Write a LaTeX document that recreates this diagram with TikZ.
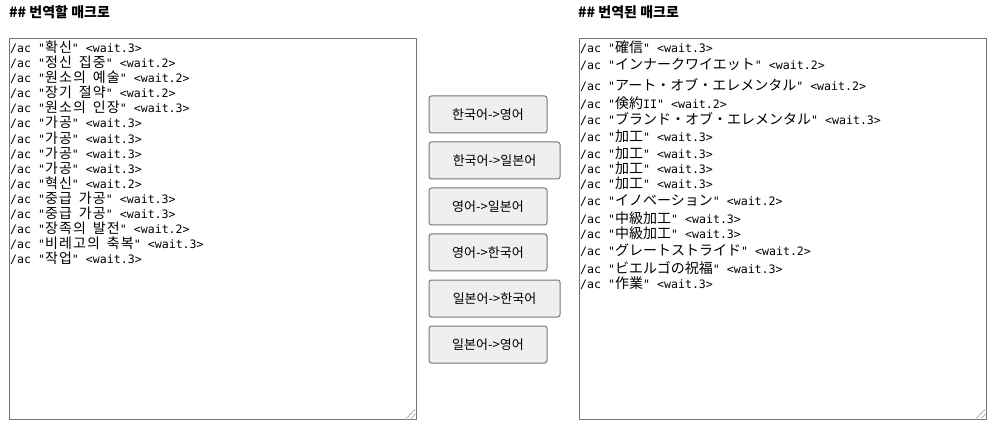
\documentclass[tikz,border=0pt]{standalone}
\usepackage{fontspec}
\setmonofont{DejaVu Sans Mono}
\newfontfamily\krfont{Noto Sans CJK KR}
\newfontfamily\krmono{Noto Sans CJK KR}[LetterSpace=8]
\newfontfamily\jpfont{Noto Sans CJK JP}
\usetikzlibrary{positioning}
\definecolor{btnfill}{HTML}{EFEFEF}
\definecolor{frame}{HTML}{767676}
\newcommand\kr[1]{{\fontsize{14}{15}\krmono #1}}
\newcommand\jp[1]{{\fontsize{14}{15}\jpfont #1}}

\begin{document}
\begin{tikzpicture}[x=1pt,y=-1pt,
  every node/.style={inner sep=0pt},
  head/.style={anchor=west,font=\fontsize{14}{15}\krfont\bfseries},
  area/.style={draw=frame,line width=1pt,anchor=north west},
  macro/.style={anchor=base west,font=\fontsize{11.6}{15}\ttfamily},
  btn/.style={draw=frame,fill=btnfill,line width=1pt,rounded corners=2.5pt,
    minimum height=37pt,font=\fontsize{13}{14}\krfont},
  grip/.style={frame,line width=0.8pt,dash pattern=on 1pt off 1pt}]
\useasboundingbox (0,0) rectangle (998,438);

% headings
\node[head] (srchead) at (9,12) {\#\# 번역할 매크로};
\node[head] (dsthead) at (578,12) {\#\# 번역된 매크로};

% text areas
\node[area,minimum width=407pt,minimum height=380pt] (srcbox) at (8.5,38.5) {};
\node[area,minimum width=407pt,minimum height=380pt] (dstbox) at (578.5,38.5) {};
\draw[grip] ([xshift=-10pt,yshift=1.5pt]srcbox.south east) -- ([xshift=-1.5pt,yshift=10pt]srcbox.south east);
\draw[grip] ([xshift=-5pt,yshift=1.5pt]srcbox.south east) -- ([xshift=-1.5pt,yshift=5pt]srcbox.south east);
\draw[grip] ([xshift=-10pt,yshift=1.5pt]dstbox.south east) -- ([xshift=-1.5pt,yshift=10pt]dstbox.south east);
\draw[grip] ([xshift=-5pt,yshift=1.5pt]dstbox.south east) -- ([xshift=-1.5pt,yshift=5pt]dstbox.south east);

% macro to translate
\node[macro] (src1) at (10,52.5) {/ac "\kr{확신}" <wait.3>};
\node[macro] (src2) at (10,67.6) {/ac "\kr{정신} \kr{집중}" <wait.2>};
\node[macro] (src3) at (10,82.7) {/ac "\kr{원소의} \kr{예술}" <wait.2>};
\node[macro] (src4) at (10,97.8) {/ac "\kr{장기} \kr{절약}" <wait.2>};
\node[macro] (src5) at (10,112.9) {/ac "\kr{원소의} \kr{인장}" <wait.3>};
\node[macro] (src6) at (10,128.0) {/ac "\kr{가공}" <wait.3>};
\node[macro] (src7) at (10,143.1) {/ac "\kr{가공}" <wait.3>};
\node[macro] (src8) at (10,158.2) {/ac "\kr{가공}" <wait.3>};
\node[macro] (src9) at (10,173.3) {/ac "\kr{가공}" <wait.3>};
\node[macro] (src10) at (10,188.4) {/ac "\kr{혁신}" <wait.2>};
\node[macro] (src11) at (10,203.5) {/ac "\kr{중급} \kr{가공}" <wait.3>};
\node[macro] (src12) at (10,218.6) {/ac "\kr{중급} \kr{가공}" <wait.3>};
\node[macro] (src13) at (10,233.7) {/ac "\kr{장족의} \kr{발전}" <wait.2>};
\node[macro] (src14) at (10,248.8) {/ac "\kr{비레고의} \kr{축복}" <wait.3>};
\node[macro] (src15) at (10,263.9) {/ac "\kr{작업}" <wait.3>};

% buttons
\node[btn,minimum width=118pt] (kren) at (488,114.5) {한국어->영어};
\node[btn,minimum width=131pt] (krjp) at (494.5,160.5) {한국어->일본어};
\node[btn,minimum width=118pt] (enjp) at (488,206.5) {영어->일본어};
\node[btn,minimum width=118pt] (enkr) at (488,252.5) {영어->한국어};
\node[btn,minimum width=131pt] (jpkr) at (494.5,298.5) {일본어->한국어};
\node[btn,minimum width=118pt] (jpen) at (488,344.5) {일본어->영어};

% translated macro
\node[macro] (dst1) at (580,53) {/ac "\jp{確信}" <wait.3>};
\node[macro] (dst2) at (580,70) {/ac "\jp{インナークワイエット}" <wait.2>};
\node[macro] (dst3) at (580,90.5) {/ac "\jp{アート・オブ・エレメンタル}" <wait.2>};
\node[macro] (dst4) at (580,108.5) {/ac "\jp{倹約}II" <wait.2>};
\node[macro] (dst5) at (580,125) {/ac "\jp{ブランド・オブ・エレメンタル}" <wait.3>};
\node[macro] (dst6) at (580,142) {/ac "\jp{加工}" <wait.3>};
\node[macro] (dst7) at (580,158.5) {/ac "\jp{加工}" <wait.3>};
\node[macro] (dst8) at (580,173.5) {/ac "\jp{加工}" <wait.3>};
\node[macro] (dst9) at (580,188.5) {/ac "\jp{加工}" <wait.3>};
\node[macro] (dst10) at (580,206) {/ac "\jp{イノベーション}" <wait.2>};
\node[macro] (dst11) at (580,223.5) {/ac "\jp{中級加工}" <wait.3>};
\node[macro] (dst12) at (580,238.5) {/ac "\jp{中級加工}" <wait.3>};
\node[macro] (dst13) at (580,255) {/ac "\jp{グレートストライド}" <wait.2>};
\node[macro] (dst14) at (580,273) {/ac "\jp{ビエルゴの祝福}" <wait.3>};
\node[macro] (dst15) at (580,288.5) {/ac "\jp{作業}" <wait.3>};
\end{tikzpicture}
\end{document}
